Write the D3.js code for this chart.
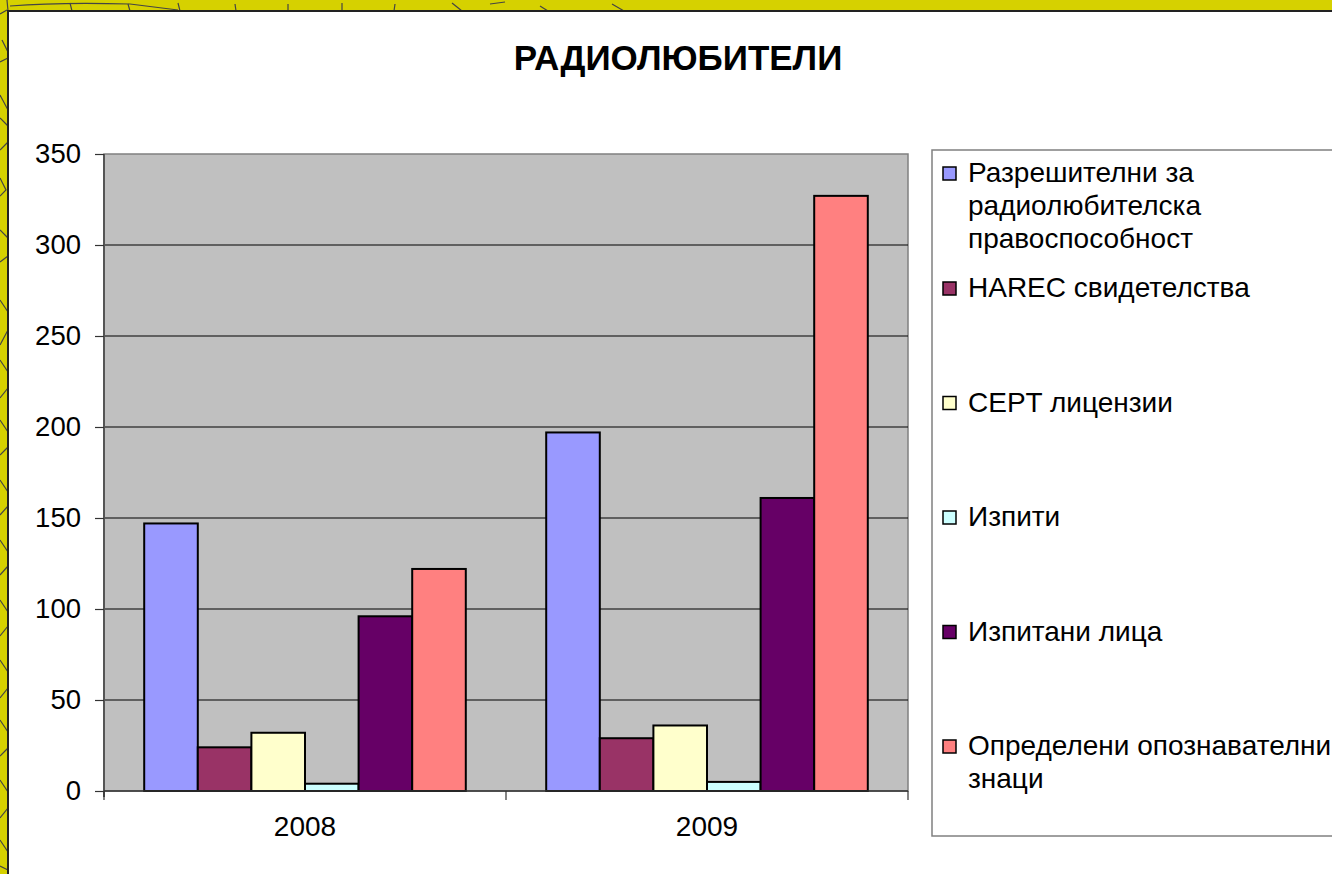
<!DOCTYPE html>
<html>
<head>
<meta charset="utf-8">
<script src="https://cdn.jsdelivr.net/npm/d3@7"></script>
<style>
  html, body { margin: 0; padding: 0; background: #d6d100; overflow: hidden; }
  svg { display: block; font-family: Arial, "Liberation Sans", sans-serif; }
</style>
</head>
<body>
<script>
// chart data
const years = ["2008", "2009"];
const seriesNames = [
  "Разрешителни за радиолюбителска правоспособност",
  "HAREC свидетелства",
  "CEPT лицензии",
  "Изпити",
  "Изпитани лица",
  "Определени опознавателни знаци"
];
// legend text as it wraps in the original
const legendLines = [
  ["Разрешителни за", "радиолюбителска", "правоспособност"],
  ["HAREC свидетелства"],
  ["CEPT лицензии"],
  ["Изпити"],
  ["Изпитани лица"],
  ["Определени опознавателни", "знаци"]
];
const permits = [147, 197];
const harec = [24, 29];
const cept = [32, 36];
const exams = [4, 5];
const examined = [96, 161];
const callsigns = [122, 327];
const yTicks = [0, 50, 100, 150, 200, 250, 300, 350];
const colors = ["#9999ff", "#993366", "#ffffcc", "#ccffff", "#660066", "#ff8080"];

const allSeries = [permits, harec, cept, exams, examined, callsigns];

const W = 1332, H = 874;
const svg = d3.select("body").append("svg").attr("width", W).attr("height", H);

// yellow frame with some cracks
svg.append("rect").attr("width", W).attr("height", H).attr("fill", "#d6d100");
const cracks = [
  "M0,14 L7,10", "M2,40 L8,52", "M0,62 L8,58", "M0,95 L8,110", "M0,118 L8,126",
  "M0,150 L8,142", "M0,178 L6,190 L0,196", "M0,230 L8,238", "M0,262 L8,256",
  "M0,300 L8,312", "M8,330 L0,345", "M0,360 L8,372", "M0,398 L8,388", "M0,420 L8,432",
  "M0,455 L8,447", "M0,480 L8,492", "M0,515 L8,506", "M0,540 L8,552", "M0,575 L8,566",
  "M0,600 L8,612", "M0,636 L8,626", "M0,660 L8,672", "M0,698 L8,688", "M0,720 L8,732",
  "M0,756 L8,748", "M0,780 L8,792", "M0,818 L8,808", "M0,840 L8,852", "M0,866 L8,870",
  "M10,6 Q60,2 130,4 L178,10", "M7,0 L8,11", "M70,3 L72,11", "M128,4 L130,11",
  "M178,3 L180,11", "M235,4 L236,11", "M288,4 L288,11", "M342,3 L342,11",
  "M395,4 L394,11", "M452,3 L462,11", "M490,4 L505,2", "M540,6 L548,11",
  "M612,4 L624,11"
];
svg.append("g").selectAll("path").data(cracks).join("path")
  .attr("d", d => d).attr("fill", "none").attr("stroke", "#444").attr("stroke-width", 1.2);

// white chart panel
svg.append("rect").attr("x", 8).attr("y", 11).attr("width", W).attr("height", H)
  .attr("fill", "#fff").attr("stroke", "#222").attr("stroke-width", 2);

// title
svg.append("text").attr("x", 678).attr("y", 70).attr("text-anchor", "middle")
  .attr("font-size", 35).attr("font-weight", "bold").text("РАДИОЛЮБИТЕЛИ");

const plotL = 104, plotR = 908, plotT = 154, plotB = 791;

const y = d3.scaleLinear().domain([0, 350]).range([plotB, plotT]);
const x0 = d3.scaleBand().domain(years).range([plotL, plotR]).padding(0);
const x1 = d3.scaleBand().domain(d3.range(seriesNames.length))
  .range([0, x0.bandwidth()]).paddingInner(0).paddingOuter(0.75);

// plot area
svg.append("rect").attr("x", plotL).attr("y", plotT).attr("width", plotR - plotL).attr("height", plotB - plotT)
  .attr("fill", "#c0c0c0").attr("stroke", "#808080").attr("stroke-width", 1.5);

// gridlines
svg.append("g").selectAll("line").data(yTicks.filter(t => t > 0 && t < 350)).join("line")
  .attr("x1", plotL).attr("x2", plotR).attr("y1", d => y(d)).attr("y2", d => y(d))
  .attr("stroke", "#000").attr("stroke-width", 1);

// bars
const groups = svg.append("g").selectAll("g").data(years).join("g")
  .attr("transform", d => `translate(${x0(d)},0)`);
groups.selectAll("rect")
  .data((yr, yi) => allSeries.map((s, si) => ({ si, v: s[yi] })))
  .join("rect")
  .attr("x", d => x1(d.si))
  .attr("y", d => y(d.v))
  .attr("width", x1.bandwidth())
  .attr("height", d => plotB - y(d.v))
  .attr("fill", d => colors[d.si])
  .attr("stroke", "#000").attr("stroke-width", 2);

// y axis
const yAxis = svg.append("g").attr("transform", `translate(${plotL},0)`)
  .call(d3.axisLeft(y).tickValues(yTicks).tickSize(9).tickPadding(14));
yAxis.select(".domain").attr("stroke", "#555").attr("stroke-width", 2)
  .attr("d", `M0,${plotT}V${plotB + 6}`);
yAxis.selectAll(".tick line").attr("stroke", "#333").attr("stroke-width", 1.2);
yAxis.selectAll(".tick text").attr("font-size", 27.5).attr("fill", "#000")
  .attr("font-family", "Arial, 'Liberation Sans', sans-serif");

// x axis
const xAxis = svg.append("g").attr("transform", `translate(0,${plotB})`)
  .call(d3.axisBottom(x0).tickSize(0).tickPadding(25));
xAxis.select(".domain").attr("stroke", "#333").attr("stroke-width", 1.5)
  .attr("d", `M${plotL},0H${plotR}`);
xAxis.selectAll(".tick text").attr("font-size", 28).attr("fill", "#000")
  .attr("font-family", "Arial, 'Liberation Sans', sans-serif");
svg.append("g").selectAll("line").data([plotL, x0("2009"), plotR]).join("line")
  .attr("x1", d => d).attr("x2", d => d).attr("y1", plotB).attr("y2", plotB + 9)
  .attr("stroke", "#333").attr("stroke-width", 1.2);

// legend
svg.append("rect").attr("x", 932).attr("y", 150).attr("width", 420).attr("height", 686)
  .attr("fill", "#fff").attr("stroke", "#808080").attr("stroke-width", 1.5);
const legendY = i => i === 0 ? 182 : 297 + (i - 1) * 114.5;
const items = svg.append("g").selectAll("g").data(seriesNames).join("g")
  .attr("transform", (d, i) => `translate(943,${legendY(i)})`);
items.append("rect").attr("x", 0).attr("y", -15).attr("width", 13).attr("height", 13)
  .attr("fill", (d, i) => colors[i]).attr("stroke", "#000").attr("stroke-width", 1.5);
items.append("text").attr("x", 25).attr("font-size", 28)
  .selectAll("tspan").data((d, i) => legendLines[i]).join("tspan")
  .attr("x", 25).attr("dy", (d, j) => j === 0 ? 0 : 33).text(d => d);
</script>
</body>
</html>
